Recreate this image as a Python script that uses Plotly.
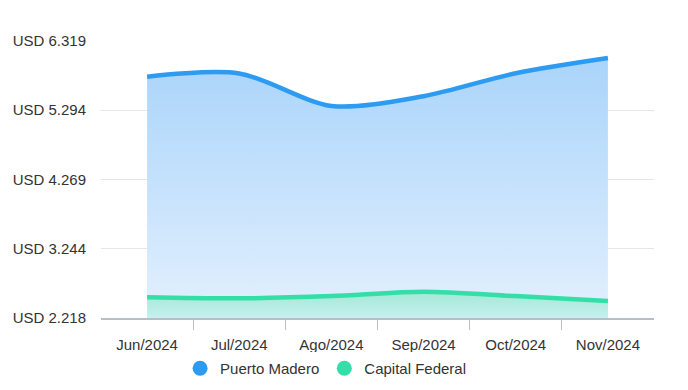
import plotly.graph_objects as go

months = ["Jun/2024", "Jul/2024", "Ago/2024", "Sep/2024", "Oct/2024", "Nov/2024"]
puerto_madero = [5790, 5838, 5358, 5502, 5842, 6068]
capital_federal = [2524, 2509, 2543, 2607, 2543, 2469]
y_tickvals = [2218, 3244, 4269, 5294, 6319]
y_ticktext = ["USD 2.218", "USD 3.244", "USD 4.269", "USD 5.294", "USD 6.319"]

x_idx = list(range(len(months)))
y_min, y_max = y_tickvals[0], y_tickvals[-1]

BLUE = "#2d9bf2"
TEAL = "#33dfa6"
FONT = "Liberation Sans, Arial, sans-serif"

fig = go.Figure()

fig.add_trace(go.Scatter(
    x=x_idx, y=puerto_madero, mode="lines", name="Puerto Madero",
    line=dict(color=BLUE, width=4.5, shape="spline", smoothing=0.85),
    fill="tozeroy",
    fillgradient=dict(type="vertical", start=y_min, stop=max(puerto_madero),
                      colorscale=[[0, "#e3f0fe"], [1, "#a9d4fa"]]),
    showlegend=False, hoverinfo="skip",
))
fig.add_trace(go.Scatter(
    x=x_idx, y=capital_federal, mode="lines", name="Capital Federal",
    line=dict(color=TEAL, width=4.5, shape="spline", smoothing=0.85),
    fill="tozeroy",
    fillgradient=dict(type="vertical", start=y_min, stop=max(capital_federal),
                      colorscale=[[0, "#c6f0ee"], [1, "#a3e8d6"]]),
    showlegend=False, hoverinfo="skip",
))

# legend entries with round markers
for name, col in [("Puerto Madero", BLUE), ("Capital Federal", TEAL)]:
    fig.add_trace(go.Scatter(
        x=[None], y=[None], mode="markers", name=name,
        marker=dict(color=col, size=15, symbol="circle"),
    ))

fig.update_layout(
    width=688, height=390,
    margin=dict(l=101, r=34, t=41, b=72, autoexpand=False),
    paper_bgcolor="white", plot_bgcolor="white",
    font=dict(family=FONT, size=15, color="#333333"),
    legend=dict(orientation="h", x=0.143, xanchor="left", y=-0.123, yanchor="top",
                font=dict(size=15, color="#333333"), itemclick=False,
                tracegroupgap=0, itemwidth=30),
    xaxis=dict(
        type="linear", range=[-0.5, len(months) - 0.5],
        tickmode="array", tickvals=x_idx, ticktext=months,
        ticks="", showgrid=False, zeroline=False,
        showline=True, linecolor="#b8bec6", linewidth=2,
        ticklabelstandoff=12,
        minor=dict(tickmode="array", tickvals=[i + 0.5 for i in x_idx[:-1]],
                   ticks="outside", ticklen=10, tickcolor="#b8bec6", tickwidth=1,
                   showgrid=False),
        fixedrange=True,
    ),
    yaxis=dict(
        range=[y_min, y_max], tickmode="array", tickvals=y_tickvals, ticktext=y_ticktext,
        showgrid=True, gridcolor="#e6e6e6", gridwidth=1, zeroline=False,
        showline=False, ticks="", ticklabelstandoff=14, fixedrange=True,
    ),
)

fig.write_html("out.html", config={"displayModeBar": False},
               post_script="document.body.style.margin='0';")
